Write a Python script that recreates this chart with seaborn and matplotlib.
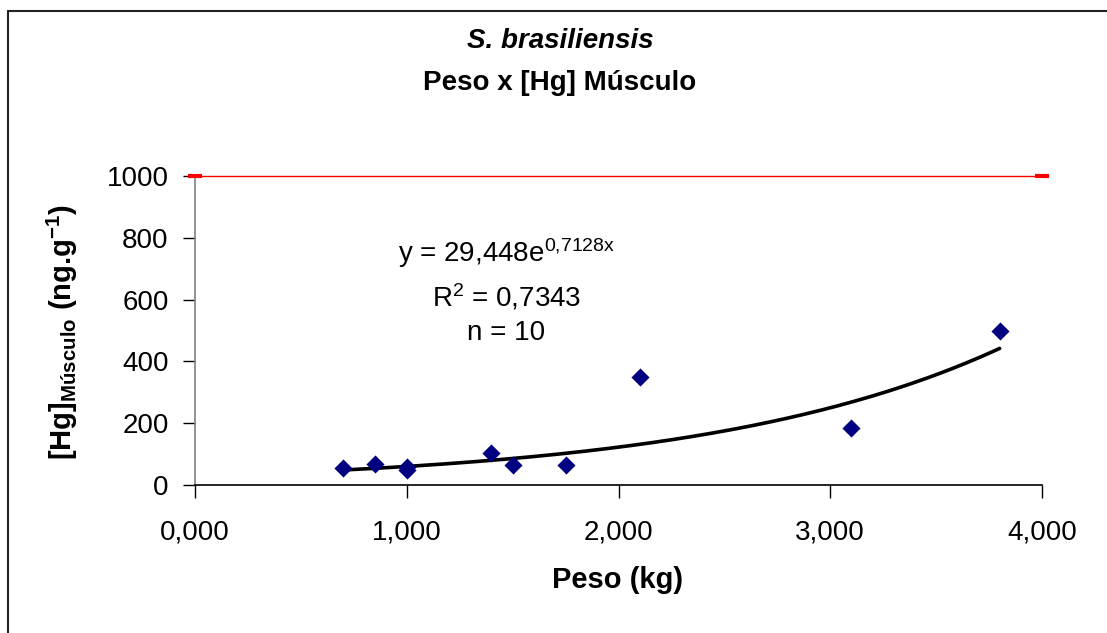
import numpy as np
import pandas as pd
import matplotlib
matplotlib.use("Agg")
import matplotlib.pyplot as plt
import seaborn as sns
from matplotlib.lines import Line2D

# ---- data ----
peso_kg = [0.70, 0.85, 1.00, 1.00, 1.40, 1.50, 1.75, 2.10, 3.10, 3.80]
hg_musculo = [56, 68, 50, 57, 103, 64, 64, 348, 185, 500]
fit_a = 29.448
fit_b = 0.7128
limite_x = [0.0, 4.0]
limite_y = [1000, 1000]
x_ticks = [0, 1, 2, 3, 4]
x_tick_labels = ["0,000", "1,000", "2,000", "3,000", "4,000"]
y_ticks = [0, 200, 400, 600, 800, 1000]

sns.set_theme(style="white")
plt.rcParams["font.family"] = ["Liberation Sans", "DejaVu Sans"]
plt.rcParams["text.color"] = "black"
plt.rcParams["axes.labelcolor"] = "black"
plt.rcParams["mathtext.fontset"] = "custom"
plt.rcParams["mathtext.rm"] = "Liberation Sans"
plt.rcParams["mathtext.it"] = "Liberation Sans:italic"
plt.rcParams["mathtext.bf"] = "Liberation Sans:bold"

W, H = 1107, 633
fig = plt.figure(figsize=(W / 100, H / 100), dpi=100)
fig.patch.set_facecolor("white")
ax = fig.add_axes([195 / W, 1 - 485 / H, 847 / W, 309 / H])

df = pd.DataFrame({"peso": peso_kg, "hg": hg_musculo})

# red limit line
ax.plot(limite_x, limite_y, color="red", lw=1.0, marker="_", markersize=10,
        markeredgewidth=3, clip_on=False, zorder=3)

# trend line
xs = np.linspace(min(peso_kg), max(peso_kg), 200)
trend = pd.DataFrame({"peso": xs, "hg": fit_a * np.exp(fit_b * xs)})
sns.lineplot(data=trend, x="peso", y="hg", ax=ax, color="black", lw=2.6, zorder=4)

sns.scatterplot(data=df, x="peso", y="hg", ax=ax, marker="D", s=85,
                color="#000080", edgecolor="#000080", linewidth=0, zorder=5)

ax.set_xlim(0, 4)
ax.set_ylim(0, 1000)
ax.set_xticks(x_ticks)
ax.set_xticklabels(x_tick_labels)
ax.set_yticks(y_ticks)
ax.set_yticklabels([str(v) for v in y_ticks])
ax.tick_params(axis="both", labelsize=20, direction="out", length=9, width=1,
               colors="black", labelcolor="black")
ax.tick_params(axis="x", pad=16, bottom=True)
ax.tick_params(axis="y", pad=10, left=True)
for side in ["top", "right"]:
    ax.spines[side].set_visible(False)
ax.spines["bottom"].set_color("black")
ax.spines["left"].set_color("#808080")
ax.spines["bottom"].set_linewidth(1.2)
ax.spines["left"].set_linewidth(1.2)
ax.set_xlabel("")
ax.set_ylabel("")

# annotation
ax.text(1.47, 722, r"y = 29,448e$^{0{,}7128\mathrm{x}}$", ha="center", va="baseline",
        fontsize=20, color="black")
ax.text(1.47, 577, r"R$^{2}$ = 0,7343", ha="center", va="baseline", fontsize=20,
        color="black")
ax.text(1.47, 469, "n = 10", ha="center", va="baseline", fontsize=20, color="black")

# titles
fig.text(560 / W, 1 - 48 / H, "S. brasiliensis", ha="center", va="baseline",
         fontsize=20, fontweight="bold", fontstyle="italic", color="black")
fig.text(560 / W, 1 - 90 / H, "Peso x [Hg] Músculo", ha="center", va="baseline",
         fontsize=20, fontweight="bold", color="black")
fig.text(618 / W, 1 - 580 / H, "Peso (kg)", ha="center", va="center",
         fontsize=21, fontweight="bold", color="black")
fig.text(62 / W, 1 - 332 / H,
         r"[Hg]$_{\mathbf{Músculo}}$ (ng.g$^{\mathbf{-1}}$)",
         ha="center", va="center", rotation=90, fontsize=21, fontweight="bold",
         color="black")

# chart border (left and top)
fig.add_artist(Line2D([8 / W, 8 / W], [0, 1 - 11 / H], color="#222222", lw=1.5))
fig.add_artist(Line2D([8 / W, 1], [1 - 11 / H, 1 - 11 / H], color="#222222", lw=1.5))

fig.savefig("out.png", dpi=100, facecolor="white")
